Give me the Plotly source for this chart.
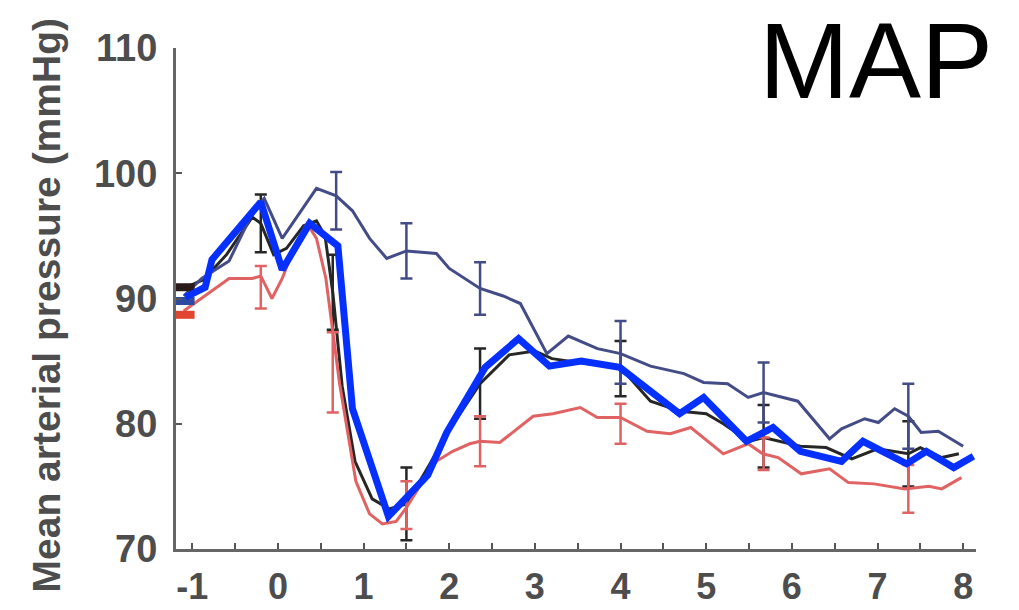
import plotly.graph_objects as go

# ---- data ----
blue_x = [-1.08, -0.85, -0.77, -0.2, 0.05, 0.37, 0.70, 0.87, 1.29, 1.75, 1.97, 2.42, 2.81, 3.17, 3.54, 3.99, 4.69, 4.97, 5.47, 5.78, 6.1, 6.58, 6.83, 7.34, 7.57, 7.89, 8.12]
blue_y = [90.1, 90.9, 93.1, 97.7, 92.3, 96.0, 94.2, 81.2, 72.6, 75.9, 79.3, 84.5, 86.8, 84.6, 85.0, 84.5, 80.8, 82.1, 78.6, 79.7, 77.8, 77.0, 78.6, 76.8, 77.8, 76.5, 77.4]

navy_x = [-1.1, -0.89, -0.57, -0.3, -0.16, 0.05, 0.21, 0.45, 0.68, 0.87, 1.07, 1.27, 1.5, 1.85, 2.0, 2.36, 2.63, 2.83, 3.14, 3.39, 3.73, 4.0, 4.35, 4.74, 4.97, 5.25, 5.49, 5.67, 6.07, 6.44, 6.58, 6.85, 7.01, 7.2, 7.36, 7.51, 7.71, 7.95, 8.0]
navy_y = [90.2, 91.6, 93.0, 96.8, 98.0, 94.8, 96.4, 98.8, 98.2, 97.0, 94.8, 93.2, 93.8, 93.6, 92.4, 90.8, 90.2, 89.6, 85.6, 87.0, 86.0, 85.6, 84.6, 84.0, 83.3, 83.2, 82.1, 82.5, 81.8, 78.8, 79.6, 80.4, 80.1, 81.2, 80.6, 79.3, 79.4, 78.4, 78.2]

red_x = [-1.1, -0.77, -0.57, -0.3, -0.2, -0.07, 0.05, 0.21, 0.34, 0.45, 0.56, 0.72, 0.91, 1.07, 1.22, 1.38, 1.5, 1.69, 1.85, 2.04, 2.24, 2.36, 2.59, 2.98, 3.21, 3.53, 3.73, 4.0, 4.31, 4.58, 4.82, 5.2, 5.49, 5.66, 5.84, 6.11, 6.44, 6.66, 6.96, 7.32, 7.6, 7.75, 7.98]
red_y = [89.0, 90.6, 91.6, 91.6, 91.8, 90.0, 91.6, 94.4, 96.0, 94.8, 91.6, 83.2, 75.4, 72.8, 72.0, 72.2, 73.3, 75.4, 77.0, 77.8, 78.4, 78.6, 78.5, 80.6, 80.8, 81.3, 80.5, 80.5, 79.4, 79.2, 79.7, 77.6, 78.4, 77.6, 77.3, 76.0, 76.4, 75.3, 75.2, 74.8, 75.0, 74.8, 75.7]

black_x = [-1.1, -0.87, -0.6, -0.3, -0.2, -0.05, 0.1, 0.3, 0.45, 0.55, 0.64, 0.75, 0.9, 1.1, 1.3, 1.5, 1.75, 2.0, 2.36, 2.7, 3.0, 3.2, 3.6, 4.0, 4.35, 4.7, 5.0, 5.2, 5.5, 5.67, 6.1, 6.4, 6.7, 7.0, 7.36, 7.5, 7.75, 7.95]
black_y = [90.8, 91.5, 93.5, 96.5, 96.0, 93.5, 94.0, 95.8, 96.2, 95.0, 90.5, 83.0, 77.0, 74.0, 73.2, 73.6, 76.5, 79.5, 83.2, 85.5, 85.8, 85.2, 84.8, 84.5, 81.8, 81.0, 80.8, 80.0, 78.6, 78.9, 78.2, 78.1, 77.2, 78.0, 77.6, 78.1, 77.3, 77.6]

navy_err_x = [0.68, 1.5, 2.36, 4.0, 5.67, 7.36]
navy_err_y = [97.8, 93.8, 90.8, 85.7, 82.5, 80.6]
navy_err = [2.3, 2.2, 2.1, 2.5, 2.4, 2.6]

black_err_x = [-0.2, 0.64, 1.5, 2.36, 4.0, 5.67, 7.36]
black_err_y = [96.0, 90.5, 73.6, 83.2, 84.4, 79.0, 77.6]
black_err = [2.3, 3.0, 2.9, 2.8, 2.2, 2.5, 2.6]

red_err_x = [-0.2, 0.64, 1.5, 2.36, 4.0, 5.67, 7.36]
red_err_y = [90.9, 84.1, 73.5, 78.6, 80.0, 77.6, 74.8]
red_err = [1.7, 3.2, 1.9, 2.0, 1.6, 1.3, 1.9]

start_x = [-1.12, -1.12, -1.12]
start_y = [90.9, 89.8, 88.7]
start_colors = ["#2b1a1a", "#2d4aa0", "#e0452f"]

x_ticks = [-1, 0, 1, 2, 3, 4, 5, 6, 7, 8]
y_ticks = [70, 80, 90, 100, 110]

NAVY = "#434c86"
RED = "#e06262"
BLACK = "#262626"
BLUE = "#0530ff"
FONT = "Liberation Sans, Arial, sans-serif"

fig = go.Figure()

def line(x, y, color, width):
    fig.add_trace(go.Scatter(x=x, y=y, mode="lines", line=dict(color=color, width=width, shape="linear"),
                             showlegend=False, hoverinfo="skip"))

def errs(x, y, e, color):
    fig.add_trace(go.Scatter(x=x, y=y, mode="markers", marker=dict(size=1, color="rgba(0,0,0,0)"),
                             error_y=dict(type="data", array=e, visible=True, color=color, thickness=2.5, width=6),
                             showlegend=False, hoverinfo="skip"))

line(black_x, black_y, BLACK, 3)
errs(black_err_x, black_err_y, black_err, BLACK)
line(navy_x, navy_y, NAVY, 3)
errs(navy_err_x, navy_err_y, navy_err, NAVY)
line(red_x, red_y, RED, 3)
errs(red_err_x, red_err_y, red_err, RED)

fig.add_trace(go.Scatter(x=start_x, y=start_y, mode="markers",
                         marker=dict(symbol="line-ew", size=18, color=start_colors,
                                     line=dict(color=start_colors, width=8)),
                         showlegend=False, hoverinfo="skip"))

line(blue_x, blue_y, BLUE, 7)

yfont = dict(family=FONT, size=38, color="#4d4d4d", weight="bold")
xfont = dict(family=FONT, size=36, color="#4d4d4d", weight="bold")

fig.update_layout(
    width=1019, height=610,
    margin=dict(l=176, r=43, t=48, b=61, autoexpand=False),
    paper_bgcolor="white", plot_bgcolor="white",
    xaxis=dict(range=[-1.19, 8.15], tickvals=x_ticks, ticktext=[str(v) for v in x_ticks],
               ticks="inside", ticklen=6, tickwidth=2, tickcolor="#555",
               minor=dict(ticks="inside", dtick=0.5, ticklen=6, tickwidth=2, tickcolor="#555"),
               showline=True, linecolor="#666", linewidth=3, showgrid=False, zeroline=False,
               tickfont=xfont, ticklabelstandoff=4, automargin=False),
    yaxis=dict(range=[70, 110], tickvals=y_ticks, ticktext=[str(v) for v in y_ticks],
               ticks="inside", ticklen=6, tickwidth=2, tickcolor="#555",
               showline=True, linecolor="#666", linewidth=3, showgrid=False, zeroline=False,
               tickfont=yfont, ticklabelstandoff=8, automargin=False),
    annotations=[
        dict(text="<b>Mean arterial pressure (mmHg)</b>", textangle=-90, xref="paper", yref="paper",
             x=-0.162, y=0.487, xanchor="center", yanchor="middle", showarrow=False,
             font=dict(family=FONT, size=39, color="#4d4d4d")),
        dict(text="MAP", xref="paper", yref="paper", x=1.024, y=0.975, xanchor="right", yanchor="middle",
             showarrow=False, font=dict(family=FONT, size=108, color="black")),
    ],
)

fig.write_html("out.html", config={"displayModeBar": False},
               post_script="document.body.style.margin='0px';")
